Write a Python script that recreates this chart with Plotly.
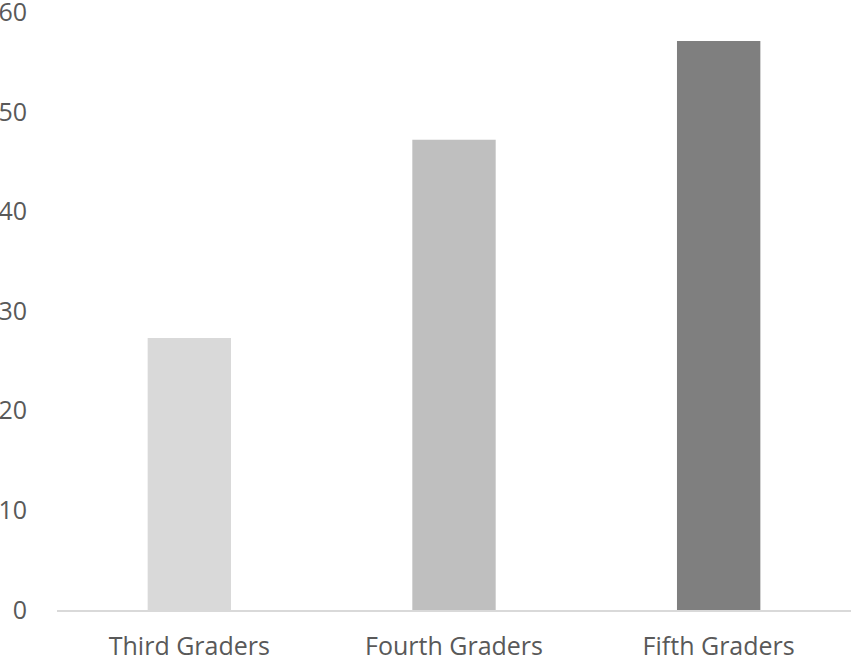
import plotly.graph_objects as go

# grade groups and their values
grades = ["Third Graders", "Fourth Graders", "Fifth Graders"]
scores = [27.3, 47.2, 57.1]
bar_colors = ["#d9d9d9", "#bfbfbf", "#7f7f7f"]
y_ticks = [0, 10, 20, 30, 40, 50, 60]

fig = go.Figure(
    go.Bar(
        x=grades,
        y=scores,
        marker=dict(color=bar_colors, line=dict(width=0)),
    )
)

fig.update_layout(
    width=854,
    height=658,
    margin=dict(l=57, r=3, t=12, b=48),
    plot_bgcolor="white",
    paper_bgcolor="white",
    bargap=0.685,
    showlegend=False,
    font=dict(family="Open Sans", size=25, color="#595959"),
)

fig.update_xaxes(
    showgrid=False,
    showline=True,
    linecolor="#d9d9d9",
    linewidth=2,
    ticks="",
    ticklabelstandoff=13,
    automargin=False,
)
fig.update_yaxes(
    range=[0, 60.02],
    tickvals=y_ticks,
    showgrid=False,
    zeroline=False,
    showline=False,
    ticks="",
    ticklabelstandoff=29,
    ticklabeloverflow="allow",
    automargin=False,
)

# page has a default 8px body margin, drop it so the figure fills the window
fig.write_html(
    "out.html",
    config={"displayModeBar": False},
    post_script="document.body.style.margin='0';",
)
